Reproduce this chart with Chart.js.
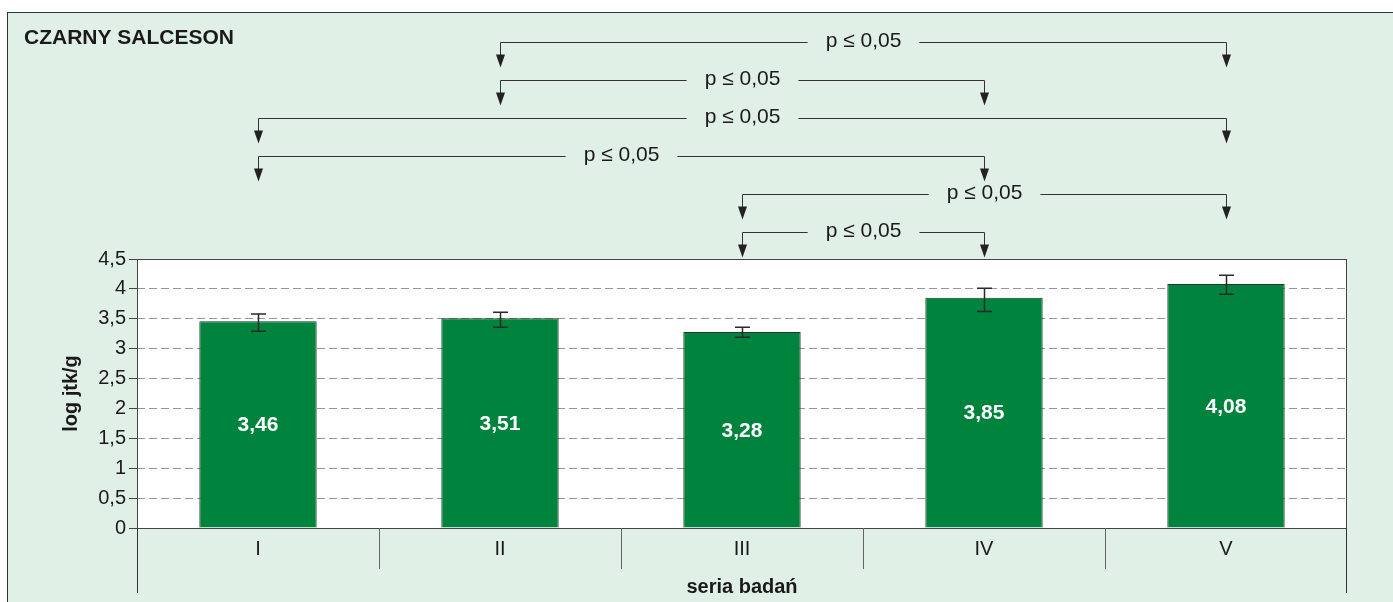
<!DOCTYPE html>
<html>
<head>
<meta charset="utf-8">
<script src="https://cdn.jsdelivr.net/npm/chart.js@4.4.1/dist/chart.umd.min.js"></script>
<style>
  html, body { margin: 0; padding: 0; background: #fff; }
  canvas { display: block; }
</style>
</head>
<body>
<canvas id="chart" width="1393" height="602"></canvas>
<script>
const categories = ["I", "II", "III", "IV", "V"];
const means = [3.46, 3.51, 3.28, 3.85, 4.08];
const errUpper = [3.58, 3.61, 3.36, 4.01, 4.23];
const errLower = [3.29, 3.36, 3.19, 3.62, 3.91];
const valueLabels = ["3,46", "3,51", "3,28", "3,85", "4,08"];

// significant pairs (category indexes), top bracket first
const pairs = [[1, 4], [1, 3], [0, 4], [0, 3], [2, 4], [2, 3]];
const pairLabels = ["p ≤ 0,05", "p ≤ 0,05", "p ≤ 0,05", "p ≤ 0,05", "p ≤ 0,05", "p ≤ 0,05"];

const FONT = "Arial, 'Liberation Sans', Helvetica, sans-serif";
const BG = "#e1f0e6";

const decorations = {
  id: "decorations",
  beforeDraw: (chart) => {
    const ctx = chart.ctx;
    const area = chart.chartArea;
    ctx.save();
    ctx.fillStyle = "#fff";
    ctx.fillRect(0, 0, chart.width, chart.height);
    ctx.fillStyle = BG;
    ctx.fillRect(7, 13, chart.width, chart.height);
    ctx.strokeStyle = "#333";
    ctx.lineWidth = 1;
    ctx.strokeRect(7.5, 12.5, chart.width + 10, chart.height + 10);
    ctx.fillStyle = "#fff";
    ctx.fillRect(area.left, area.top, area.right - area.left, area.bottom - area.top);
    ctx.restore();
  },
  afterDatasetsDraw: (chart) => {
    const ctx = chart.ctx;
    const area = chart.chartArea;
    const x = chart.scales.x;
    const y = chart.scales.y;
    const meta = chart.getDatasetMeta(0);
    ctx.save();

    // error bars
    ctx.strokeStyle = "#2a2a2a";
    ctx.lineWidth = 1.5;
    meta.data.forEach((bar, i) => {
      const cx = Math.round(bar.x) + 0.5;
      const yt = y.getPixelForValue(errUpper[i]);
      const yb = y.getPixelForValue(errLower[i]);
      ctx.beginPath();
      ctx.moveTo(cx, yt);
      ctx.lineTo(cx, yb);
      ctx.moveTo(cx - 7.5, yt);
      ctx.lineTo(cx + 7.5, yt);
      ctx.moveTo(cx - 7.5, yb);
      ctx.lineTo(cx + 7.5, yb);
      ctx.stroke();
    });

    // values inside bars
    ctx.fillStyle = "#fff";
    ctx.font = "bold 21px " + FONT;
    ctx.textAlign = "center";
    ctx.textBaseline = "middle";
    meta.data.forEach((bar, i) => {
      ctx.fillText(valueLabels[i], bar.x, (bar.y + bar.base) / 2 + 1);
    });

    // plot frame
    ctx.strokeStyle = "#444";
    ctx.lineWidth = 1;
    ctx.strokeRect(area.left + 0.5, area.top + 0.5, area.right - area.left - 1, area.bottom - area.top);

    // category separators below axis
    const step = (area.right - area.left) / categories.length;
    ctx.strokeStyle = "#666";
    ctx.beginPath();
    for (let i = 1; i < categories.length; i++) {
      const sx = Math.round(area.left + step * i) + 0.5;
      ctx.moveTo(sx, area.bottom);
      ctx.lineTo(sx, area.bottom + 41);
    }
    ctx.stroke();
    ctx.strokeStyle = "#333";
    ctx.beginPath();
    ctx.moveTo(area.left + 0.5, area.bottom);
    ctx.lineTo(area.left + 0.5, area.bottom + 65);
    ctx.moveTo(area.right - 0.5, area.bottom);
    ctx.lineTo(area.right - 0.5, area.bottom + 65);
    ctx.stroke();

    // axis titles
    ctx.fillStyle = "#1a1a1a";
    ctx.font = "bold 20px " + FONT;
    ctx.textAlign = "center";
    ctx.textBaseline = "middle";
    ctx.fillText("seria badań", (area.left + area.right) / 2, 587);
    ctx.save();
    ctx.translate(71, (area.top + area.bottom) / 2);
    ctx.rotate(-Math.PI / 2);
    ctx.fillText("log jtk/g", 0, 0);
    ctx.restore();

    // chart title
    ctx.textAlign = "left";
    ctx.textBaseline = "alphabetic";
    ctx.font = "bold 21px " + FONT;
    ctx.fillText("CZARNY SALCESON", 24, 44);

    // significance brackets
    ctx.font = "21px " + FONT;
    ctx.textAlign = "center";
    ctx.textBaseline = "middle";
    ctx.strokeStyle = "#333";
    ctx.lineWidth = 1;
    pairs.forEach((pair, i) => {
      const by = 42 + i * 38 + 0.5;
      const x1 = Math.round(x.getPixelForValue(pair[0])) + 0.5;
      const x2 = Math.round(x.getPixelForValue(pair[1])) + 0.5;
      const mid = (x1 + x2) / 2;
      const half = ctx.measureText(pairLabels[i]).width / 2 + 18;
      ctx.beginPath();
      ctx.moveTo(x1, by + 13);
      ctx.lineTo(x1, by);
      ctx.lineTo(mid - half, by);
      ctx.moveTo(mid + half, by);
      ctx.lineTo(x2, by);
      ctx.lineTo(x2, by + 13);
      ctx.stroke();
      ctx.fillStyle = "#222";
      [x1, x2].forEach((ax) => {
        ctx.beginPath();
        ctx.moveTo(ax - 4.5, by + 12);
        ctx.lineTo(ax + 4.5, by + 12);
        ctx.lineTo(ax, by + 25);
        ctx.closePath();
        ctx.fill();
      });
      ctx.fillStyle = "#1a1a1a";
      ctx.fillText(pairLabels[i], mid, by - 1);
    });

    ctx.restore();
  },
};

new Chart(document.getElementById("chart"), {
  type: "bar",
  data: {
    labels: categories,
    datasets: [
      {
        data: means,
        backgroundColor: "#00843d",
        borderColor: "#1f3a29",
        borderWidth: 1,
        barPercentage: 0.485,
        categoryPercentage: 1,
      },
    ],
  },
  options: {
    responsive: false,
    devicePixelRatio: 1,
    animation: false,
    layout: {
      padding: { left: 0, right: 46, top: 259, bottom: 0 },
    },
    scales: {
      x: {
        afterFit: (scale) => {
          scale.height = 74;
        },
        grid: { display: false, drawTicks: false },
        border: { display: false },
        ticks: {
          padding: 9,
          color: "#1a1a1a",
          font: { size: 20, family: FONT },
        },
      },
      y: {
        min: 0,
        max: 4.5,
        afterFit: (scale) => {
          scale.width = 137;
        },
        ticks: {
          stepSize: 0.5,
          padding: 3,
          color: "#1a1a1a",
          font: { size: 20, family: FONT },
          callback: (v) => String(v).replace(".", ","),
        },
        grid: {
          color: (c) =>
            c.tick && (c.tick.value === 0 || c.tick.value === 4.5)
              ? "rgba(0,0,0,0)"
              : "#959595",
          tickColor: "#444",
          tickLength: 8,
          tickBorderDash: [],
          lineWidth: 1,
        },
        border: { display: false, dash: [8, 4] },
      },
    },
    plugins: {
      legend: { display: false },
      tooltip: { enabled: false },
    },
  },
  plugins: [decorations],
});
</script>
</body>
</html>
